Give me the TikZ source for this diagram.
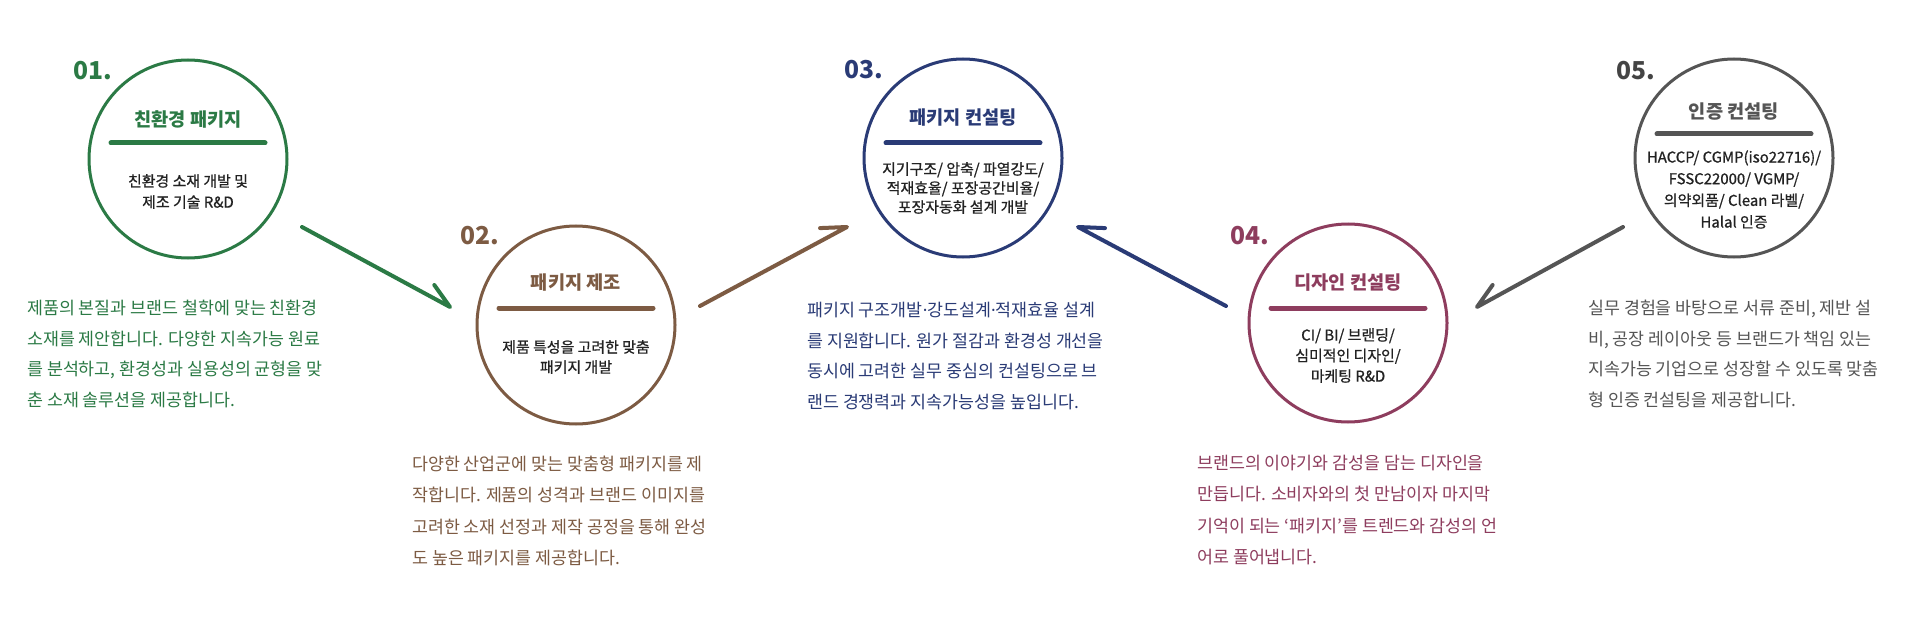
\documentclass[tikz,border=0pt]{standalone}
\usepackage{fontspec}
\setmainfont{Noto Sans CJK KR}
\newfontfamily\krmed[FakeBold=0.8]{Noto Sans CJK KR}
\newfontfamily\latinf{Noto Sans}
\definecolor{cgreen}{RGB}{43,122,69}
\definecolor{cbrown}{RGB}{125,91,67}
\definecolor{cnavy}{RGB}{42,59,118}
\definecolor{cmaroon}{RGB}{142,61,94}
\definecolor{cgray}{RGB}{85,85,85}
\definecolor{cnum}{RGB}{68,68,68}
\definecolor{txt}{RGB}{34,34,34}
\newcommand{\mdot}{{\latinf ·}}
\begin{document}
\begin{tikzpicture}[x=0.75pt,y=-0.75pt,
  ring/.style={circle, draw, line width=2.25pt, minimum size=148.5pt, inner sep=0pt},
  num/.style={font=\bfseries\fontsize{18.5}{20}\selectfont, inner sep=0pt},
  ttl/.style={font=\bfseries\fontsize{14}{15}\selectfont, inner sep=0pt},
  sub/.style={font=\krmed\fontsize{11.2}{#1}\selectfont, align=center, text=txt, inner sep=0pt},
  para/.style={font=\fontsize{13}{#1}\selectfont, align=left, anchor=west, inner sep=0pt},
  divider/.style={line width=3.75pt, line cap=round},
  arr/.style={line width=3pt, line cap=round, line join=round}]
\useasboundingbox[fill=white] (0,0) rectangle (1920,624);

% circle 1
\node[ring, draw=cgreen] (c1) at (188,159) {};
\node[num, text=cgreen] (n1) at (93,71) {01.};
\node[ttl, text=cgreen] (t1) at (188,119) {친환경 패키지};
\coordinate (d1a) at (111,143); \coordinate (d1b) at (265,143);
\draw[divider, cgreen] (d1a) -- (d1b);
\node[sub=15.75pt] (s1) at (188,191.5) {친환경 소재 개발 및\\제조 기술 R\&D};

% circle 2
\node[ring, draw=cbrown] (c2) at (576,325) {};
\node[num, text=cbrown] (n2) at (480,236) {02.};
\node[ttl, text=cbrown] (t2) at (576,283) {패키지 제조};
\coordinate (d2a) at (499,308); \coordinate (d2b) at (653,308);
\draw[divider, cbrown] (d2a) -- (d2b);
\node[sub=15pt] (s2) at (576,357) {제품 특성을 고려한 맞춤\\패키지 개발};

% circle 3
\node[ring, draw=cnavy] (c3) at (963,158) {};
\node[num, text=cnavy] (n3) at (864,70) {03.};
\node[ttl, text=cnavy] (t3) at (963,118) {패키지 컨설팅};
\coordinate (d3a) at (886,143); \coordinate (d3b) at (1040,143);
\draw[divider, cnavy] (d3a) -- (d3b);
\node[sub=14.25pt] (s3) at (963,188) {지기구조/ 압축/ 파열강도/\\적재효율/ 포장공간비율/\\포장자동화 설계 개발};

% circle 4
\node[ring, draw=cmaroon] (c4) at (1348,323) {};
\node[num, text=cmaroon] (n4) at (1250,236) {04.};
\node[ttl, text=cmaroon] (t4) at (1348,283) {디자인 컨설팅};
\coordinate (d4a) at (1271,308); \coordinate (d4b) at (1425,308);
\draw[divider, cmaroon] (d4a) -- (d4b);
\node[sub=15.4pt] (s4) at (1348,355.5) {CI/ BI/ 브랜딩/\\심미적인 디자인/\\마케팅 R\&D};

% circle 5
\node[ring, draw=cgray] (c5) at (1734,158) {};
\node[num, text=cnum] (n5) at (1636,71) {05.};
\node[ttl, text=cgray] (t5) at (1734,112) {인증 컨설팅};
\coordinate (d5a) at (1657,134); \coordinate (d5b) at (1811,134);
\draw[divider, cgray] (d5a) -- (d5b);
\node[sub=16.25pt] (s5) at (1734,189.5) {HACCP/ CGMP(iso22716)/\\FSSC22000/ VGMP/\\의약외품/ Clean 라벨/\\Halal 인증};

% arrows
\coordinate (a1s) at (302,227); \coordinate (a1e) at (450,307);
\draw[arr, cgreen] (a1s) -- (a1e) -- ++(-15.7,-22);
\coordinate (a2s) at (700,306); \coordinate (a2e) at (847,227);
\draw[arr, cbrown] (a2s) -- (a2e) -- ++(-27,1.1);
\coordinate (a3s) at (1226,306); \coordinate (a3e) at (1078,227);
\draw[arr, cnavy] (a3s) -- (a3e) -- ++(27,1.1);
\coordinate (a4s) at (1623,227); \coordinate (a4e) at (1477,307);
\draw[arr, cgray] (a4s) -- (a4e) -- ++(15.6,-22);

% paragraphs
\node[para=22.9pt, text=cgreen] (p1) at (27,354) {제품의 본질과 브랜드 철학에 맞는 친환경\\소재를 제안합니다. 다양한 지속가능 원료\\를 분석하고, 환경성과 실용성의 균형을 맞\\춘 소재 솔루션을 제공합니다.};
\node[para=23.6pt, text=cbrown] (p2) at (412,511) {다양한 산업군에 맞는 맞춤형 패키지를 제\\작합니다. 제품의 성격과 브랜드 이미지를\\고려한 소재 선정과 제작 공정을 통해 완성\\도 높은 패키지를 제공합니다.};
\node[para=22.9pt, text=cnavy] (p3) at (807,356) {패키지 구조개발\mdot 강도설계\mdot 적재효율 설계\\를 지원합니다. 원가 절감과 환경성 개선을\\동시에 고려한 실무 중심의 컨설팅으로 브\\랜드 경쟁력과 지속가능성을 높입니다.};
\node[para=23.6pt, text=cmaroon] (p4) at (1197,510) {브랜드의 이야기와 감성을 담는 디자인을\\만듭니다. 소비자와의 첫 만남이자 마지막\\기억이 되는 ‘패키지’를 트렌드와 감성의 언\\어로 풀어냅니다.};
\node[para=22.9pt, text=cgray] (p5) at (1588,354) {실무 경험을 바탕으로 서류 준비, 제반 설\\비, 공장 레이아웃 등 브랜드가 책임 있는\\지속가능 기업으로 성장할 수 있도록 맞춤\\형 인증 컨설팅을 제공합니다.};
\end{tikzpicture}
\end{document}
